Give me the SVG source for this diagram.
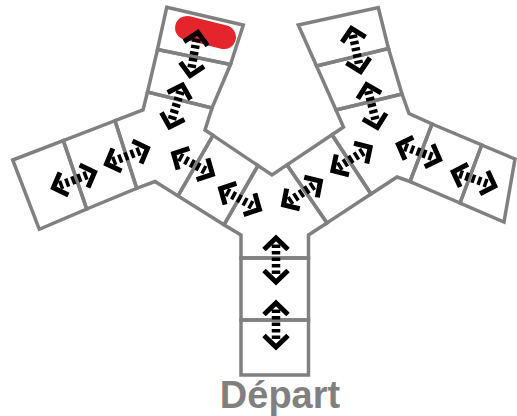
<svg xmlns="http://www.w3.org/2000/svg" width="517" height="416" viewBox="0 0 517 416">
<style>
.cell{fill:none;stroke:#808080;stroke-width:3.5;stroke-linejoin:miter}
.chev{fill:none;stroke:#000;stroke-width:5;stroke-linejoin:miter;stroke-miterlimit:10}
.dash{stroke:#000;stroke-width:8.5;stroke-dasharray:3.5 3}
.label{font-family:"Liberation Sans",Arial,sans-serif;font-weight:bold;font-size:38px;fill:#808080}
</style>
<defs>
<g id="arr">
<path class="chev" d="M-10.5,-12 L-22,0 L-10.5,12 M10.5,-12 L22,0 L10.5,12"/>
<line class="dash" x1="-15.5" y1="0" x2="15.5" y2="0"/>
</g>
</defs>
<rect width="517" height="416" fill="#fff"/>
<g id="goal">
<rect x="-31" y="-12" width="62" height="24" rx="12" fill="#e4262c" transform="translate(205.5,32.5) rotate(14)"/>
<polygon class="cell" points="166.7,7.3 243.3,25 230.5,64.5 157.5,49.5"/>
</g>
<g id="top-left-2"><polygon class="cell" points="157.5,49.5 230.5,64.5 212,108 147.5,92"/></g>
<g id="far-left-1"><polygon class="cell" points="12.7,160 63.3,140.6 86.7,209 39.3,229.3"/></g>
<g id="far-left-2"><polygon class="cell" points="63.3,140.6 115,120.7 136.7,188.3 86.7,209"/></g>
<g id="junction-left"><polygon class="cell" points="115,120.7 143,110 147.5,92 212,108 205,130 213,135.4 178,195.9 155,181.5 136.7,188.3"/></g>
<g id="inner-left"><polygon class="cell" points="213,135.4 258,165.6 224,224.8 178,195.9"/></g>
<g id="center"><polygon class="cell" points="258,165.6 272,175 287,164.9 327,222.9 308.5,235 308.5,258 241,258 241,235 224,224.8"/></g>
<g id="inner-right"><polygon class="cell" points="287,164.9 332,134.7 371,194 327,222.9"/></g>
<g id="junction-right"><polygon class="cell" points="336,110 402,94 409,113.5 432,124 410,181.5 397,177 371,194 332,134.7 343.5,127"/></g>
<g id="top-right-1"><polygon class="cell" points="298.3,25 378.3,7.5 388.5,48.5 316.5,66"/></g>
<g id="top-right-2"><polygon class="cell" points="316.5,66 388.5,48.5 402,94 336,110"/></g>
<g id="far-right-1"><polygon class="cell" points="432,124 481.7,145 460,203 410,181.5"/></g>
<g id="far-right-2"><polygon class="cell" points="481.7,145 515,159 504,222 460,203"/></g>
<g id="bottom-1"><polygon class="cell" points="241,258 308.5,258 308.5,320 241,320"/></g>
<g id="start"><polygon class="cell" points="241,320 308.5,320 308.5,375 241,375"/></g>
<g id="connectors">
<use href="#arr" transform="translate(194,54) rotate(100)"/>
<use href="#arr" transform="translate(176,106) rotate(107)"/>
<use href="#arr" transform="translate(356,50) rotate(78)"/>
<use href="#arr" transform="translate(372,106) rotate(76)"/>
<use href="#arr" transform="translate(74,180) rotate(-20.6)"/>
<use href="#arr" transform="translate(127,156) rotate(-21)"/>
<use href="#arr" transform="translate(193,164) rotate(28)"/>
<use href="#arr" transform="translate(240,199) rotate(28)"/>
<use href="#arr" transform="translate(302,193) rotate(-33)"/>
<use href="#arr" transform="translate(351.5,159) rotate(-32)"/>
<use href="#arr" transform="translate(419,152) rotate(20)"/>
<use href="#arr" transform="translate(474,179) rotate(19)"/>
<use href="#arr" transform="translate(276,260) rotate(90)"/>
<use href="#arr" transform="translate(276,325) rotate(90)"/>
</g>
<text class="label" x="280" y="408" text-anchor="middle">Départ</text>
</svg>
